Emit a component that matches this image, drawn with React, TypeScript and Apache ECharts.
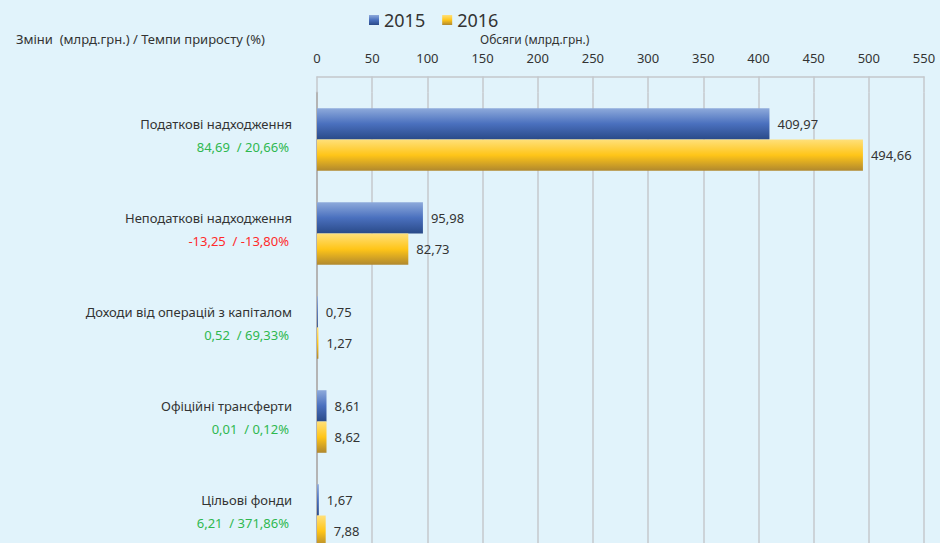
import React, { useEffect, useRef } from "react";
import * as echarts from "echarts";

const categories = [
  "Податкові надходження",
  "Неподаткові надходження",
  "Доходи від операцій з капіталом",
  "Офіційні трансферти",
  "Цільові фонди",
];
const values2015 = [409.97, 95.98, 0.75, 8.61, 1.67];
const values2016 = [494.66, 82.73, 1.27, 8.62, 7.88];
const changes = ["84,69  / 20,66%", "-13,25  / -13,80%", "0,52  / 69,33%", "0,01  / 0,12%", "6,21  / 371,86%"];
const changePositive = [true, false, true, true, true];
const seriesNames = ["2015", "2016"];
const xTicks = { min: 0, max: 550, interval: 50 };

const FONT = "Noto Sans";

export default function App() {
  const ref = useRef<HTMLDivElement>(null);
  useEffect(() => {
    if (!ref.current) return;
    const chart = echarts.init(ref.current, undefined, { renderer: "svg" });
    const blue = new echarts.graphic.LinearGradient(0, 0, 0, 1, [
      { offset: 0, color: "#8eaadb" },
      { offset: 0.5, color: "#4a70be" },
      { offset: 1, color: "#2a4a88" },
    ]);
    const yellow = new echarts.graphic.LinearGradient(0, 0, 0, 1, [
      { offset: 0, color: "#ffe07a" },
      { offset: 0.5, color: "#ffc518" },
      { offset: 1, color: "#b0882e" },
    ]);
    const fmt = (p: any) => Number(p.value).toFixed(2).replace(".", ",");
    const label = {
      show: true,
      position: "right" as const,
      distance: 8,
      formatter: fmt,
      color: "#333",
      fontSize: 13,
      fontFamily: FONT,
    };
    chart.setOption({
      animation: false,
      backgroundColor: "#e1f3fb",
      textStyle: { fontFamily: FONT },
      legend: {
        data: seriesNames,
        left: 364,
        top: 6,
        icon: "rect",
        itemWidth: 10,
        itemHeight: 10,
        itemGap: 17,
        textStyle: { fontSize: 18, color: "#333", fontFamily: FONT },
      },
      graphic: [
        {
          type: "text",
          left: 16,
          top: 32,
          style: {
            text: "Зміни  (млрд.грн.) / Темпи приросту (%)",
            fontSize: 13,
            fill: "#333",
            fontFamily: FONT,
          },
        },
        {
          type: "text",
          left: 480,
          top: 33,
          style: {
            text: "Обсяги (млрд.грн.)",
            fontSize: 12,
            fill: "#333",
            fontFamily: FONT,
          },
        },
      ],
      grid: { left: 317, right: 16, top: 92.5, bottom: 17.5, containLabel: false },
      xAxis: {
        type: "value",
        position: "top",
        offset: 16,
        min: xTicks.min,
        max: xTicks.max,
        interval: xTicks.interval,
        axisLine: { show: true, lineStyle: { color: "#c4c8cc", width: 1.5 } },
        axisTick: { show: true, inside: true, length: 16, lineStyle: { color: "#c4c8cc", width: 1.5 } },
        axisLabel: { color: "#333", fontSize: 13, margin: 12, fontFamily: FONT },
        splitLine: { show: true, lineStyle: { color: "#c4c8cc", width: 1.5 } },
      },
      yAxis: {
        type: "category",
        data: categories,
        inverse: true,
        axisLine: { show: true, lineStyle: { color: "#b4b4b4", width: 2 } },
        axisTick: { show: false },
        axisLabel: {
          margin: 25,
          align: "right",
          padding: [0, 0, 9, 0],
          formatter: (v: string, i: number) =>
            `{n|${v}}\n{${changePositive[i] ? "g" : "r"}|${changes[i]}}`,
          rich: {
            n: { fontSize: 13, color: "#333", lineHeight: 23, fontFamily: FONT, align: "right" },
            g: { fontSize: 13, color: "#2fb84f", lineHeight: 23, fontFamily: FONT, align: "right", padding: [0, 3, 0, 0] },
            r: { fontSize: 13, color: "#ff2a2a", lineHeight: 23, fontFamily: FONT, align: "right", padding: [0, 3, 0, 0] },
          },
        },
      },
      series: [
        {
          name: seriesNames[0],
          type: "bar",
          data: values2015,
          barWidth: 31.3,
          barGap: "0%",
          itemStyle: { color: blue },
          label,
        },
        {
          name: seriesNames[1],
          type: "bar",
          data: values2016,
          barWidth: 31.3,
          barGap: "0%",
          itemStyle: { color: yellow },
          label,
        },
      ],
    });
    return () => chart.dispose();
  }, []);
  return (
    <div style={{ position: "fixed", left: 0, top: 0, width: 940, height: 543, overflow: "hidden" }}>
      <div ref={ref} style={{ width: 940, height: 580 }} />
    </div>
  );
}
